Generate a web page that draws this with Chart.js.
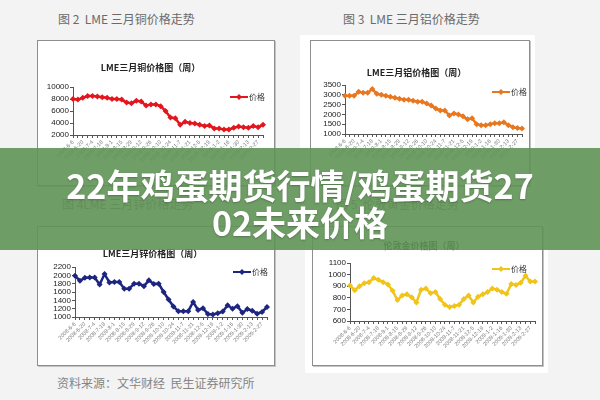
<!DOCTYPE html>
<html>
<head>
<meta charset="utf-8">
<script src="https://cdn.jsdelivr.net/npm/chart.js@4/dist/chart.umd.min.js"></script>
<style>
  body { margin: 0; width: 600px; height: 400px; background: #f3f3f3; position: relative; overflow: hidden;
         font-family: "Noto Sans CJK SC", sans-serif; }
  .cap { position: absolute; font-size: 12px; line-height: 14px; color: #6a6a6a; white-space: nowrap; }
  .paper { position: absolute; background: #fff; }
  .box { position: absolute; border: 1px solid #8e8e8e; background: #fff; box-shadow: 1px 1px 0 #c4c4c4; }
  .box canvas { display: block; }
  #banner { position: absolute; left: 0; top: 148px; width: 600px; height: 102px; background: rgba(96, 148, 86, 0.9);
            color: #fff; text-align: center; font-weight: 700; font-size: 34px; line-height: 37px;
            box-sizing: border-box; padding-top: 18px; text-shadow: 0 1px 2px rgba(0,0,0,0.25); }
</style>
</head>
<body>
<div class="cap" style="left:58px;top:12px">图 2&nbsp; LME 三月铜价格走势</div>
<div class="cap" style="left:343px;top:12px">图 3&nbsp; LME 三月铝价格走势</div>
<div class="cap" style="left:62px;top:197px">图 4LME 三月锌价格走势</div>
<div class="cap" style="left:336px;top:197px">图 5&nbsp; 伦敦黄金价格走势</div>
<div class="cap" style="left:57px;top:376px;color:#858585">资料来源：文华财经&nbsp; 民生证券研究所</div>

<div class="paper" style="left:300px;top:35px;width:235px;height:157px"></div>
<div class="paper" style="left:305px;top:221px;width:243px;height:152px"></div>

<div class="box" style="left:37px;top:40px"><canvas id="copper" width="236" height="144"></canvas></div>
<div class="box" style="left:310px;top:40px"><canvas id="aluminium" width="218" height="144"></canvas></div>
<div class="box" style="left:37px;top:226px"><canvas id="zinc" width="236" height="138"></canvas></div>
<div class="box" style="left:312px;top:226px"><canvas id="gold" width="229" height="138"></canvas></div>

<div id="banner">22年鸡蛋期货行情/鸡蛋期货27<br>02未来价格</div>

<script>
// weekly dates, 2008-6-6 .. 2009-3-6
const dates = [
  '2008-6-6', '2008-6-13', '2008-6-20', '2008-6-27', '2008-7-4', '2008-7-11', '2008-7-18', '2008-7-25',
  '2008-8-1', '2008-8-8', '2008-8-15', '2008-8-22', '2008-8-29', '2008-9-5', '2008-9-12', '2008-9-19',
  '2008-9-26', '2008-10-3', '2008-10-10', '2008-10-17', '2008-10-24', '2008-10-31', '2008-11-7', '2008-11-14',
  '2008-11-21', '2008-11-28', '2008-12-5', '2008-12-12', '2008-12-19', '2008-12-26', '2009-1-2', '2009-1-9',
  '2009-1-16', '2009-1-23', '2009-1-30', '2009-2-6', '2009-2-13', '2009-2-20', '2009-2-27', '2009-3-6'
];

const copperPrices = [8000, 7900, 8200, 8500, 8500, 8400, 8300, 8200, 8000, 8000, 7900, 7400, 7300, 7700,
  7600, 6900, 7100, 7100, 6800, 6000, 4900, 4800, 3700, 4200, 4000, 3900, 3700, 3500, 3600, 3100,
  3100, 2900, 2900, 3200, 3400, 3300, 3200, 3500, 3300, 3700];

const aluminiumPrices = [2950, 2950, 2950, 3150, 3100, 3100, 3300, 3050, 3000, 2950, 2900, 2850, 2800, 2750,
  2750, 2700, 2650, 2650, 2550, 2450, 2300, 2200, 2200, 1950, 2050, 2000, 1900, 1750, 1800, 1500,
  1450, 1450, 1500, 1550, 1550, 1600, 1450, 1350, 1300, 1280];

const zincPrices = [1990, 1870, 1940, 1950, 1950, 1780, 2030, 1830, 1840, 1840, 1680, 1680, 1800, 1800,
  1740, 1880, 1790, 1800, 1600, 1420, 1250, 1140, 1140, 1140, 1360, 1170, 1210, 1070, 1060, 1090,
  1130, 1280, 1200, 1260, 1100, 1190, 1150, 1080, 1120, 1240];

const goldPrices = [905, 865, 900, 925, 935, 970, 955, 935, 915, 860, 780, 820, 830, 805, 760, 870, 880,
  840, 850, 790, 740, 720, 730, 740, 790, 820, 760, 810, 830, 850, 880, 870, 850, 835, 920, 910,
  930, 990, 940, 940];

const copperTicks = [2000, 10000, 2000];     // min, max, step
const aluminiumTicks = [1000, 3500, 500];
const zincTicks = [1000, 2200, 200];
const goldTicks = [600, 1100, 100];

const seriesLabel = '价格';

// small legend drawn inside the plot, like the Excel original
const legendMark = {
  id: 'legendMark',
  afterDraw(chart, args, opts) {
    const ctx = chart.ctx;
    const ds = chart.data.datasets[0];
    const x = opts.x, y = opts.y;
    ctx.save();
    ctx.strokeStyle = ds.borderColor;
    ctx.lineWidth = 2;
    ctx.beginPath();
    ctx.moveTo(x, y);
    ctx.lineTo(x + 18, y);
    ctx.stroke();
    ctx.fillStyle = ds.borderColor;
    ctx.beginPath();
    ctx.moveTo(x + 9, y - 3);
    ctx.lineTo(x + 12, y);
    ctx.lineTo(x + 9, y + 3);
    ctx.lineTo(x + 6, y);
    ctx.closePath();
    ctx.fill();
    ctx.fillStyle = '#333';
    ctx.font = '8px "Noto Sans CJK SC"';
    ctx.textBaseline = 'middle';
    ctx.fillText(ds.label, x + 19, y);
    ctx.restore();
  }
};

function makeChart(id, title, values, ticks, color, g) {
  return new Chart(document.getElementById(id), {
    type: 'line',
    data: {
      labels: dates,
      datasets: [{
        label: seriesLabel,
        data: values,
        borderColor: color,
        backgroundColor: color,
        borderWidth: 2.5,
        pointStyle: 'rectRot',
        pointRadius: 3,
        pointBackgroundColor: color,
        pointBorderWidth: 0,
        tension: 0
      }]
    },
    options: {
      responsive: false,
      animation: false,
      layout: { padding: { left: 0, right: g.right, top: 0, bottom: 0 } },
      plugins: {
        legend: { display: false },
        tooltip: { enabled: false },
        title: {
          display: true,
          text: title,
          color: '#222',
          font: { family: '"Noto Sans CJK SC"', size: 9, weight: 'bold', lineHeight: 1.2 },
          padding: { top: g.titleTop, bottom: g.titleBottom }
        },
        legendMark: { x: g.legX, y: g.legY }
      },
      scales: {
        x: {
          offset: false,
          afterFit: s => { s.height = g.xHeight; },
          grid: { drawOnChartArea: false, drawTicks: true, tickLength: 3, color: '#555' },
          border: { color: '#555' },
          ticks: {
            autoSkip: false, minRotation: 45, maxRotation: 45, padding: 1,
            color: '#777', font: { family: 'Liberation Sans', size: 5.5 },
            callback: (v, i) => (i % 2 ? '' : dates[i])
          }
        },
        y: {
          min: ticks[0], max: ticks[1],
          afterFit: s => { s.width = g.yWidth; },
          grid: { drawOnChartArea: false, drawTicks: true, tickLength: 3, color: '#555' },
          border: { color: '#555' },
          ticks: {
            stepSize: ticks[2], autoSkip: false, padding: 1, color: '#222',
            font: { family: 'Liberation Sans', size: 8 },
            callback: v => String(v)
          }
        }
      }
    },
    plugins: [legendMark]
  });
}

makeChart('copper', 'LME三月铜价格图（周）', copperPrices, copperTicks, '#e3161d',
  { right: 11, yWidth: 35, xHeight: 50, titleTop: 21.6, titleBottom: 13.6, legX: 192, legY: 56 });
makeChart('aluminium', 'LME三月铝价格图（周）', aluminiumPrices, aluminiumTicks, '#e8771f',
  { right: 7, yWidth: 34, xHeight: 51, titleTop: 26.6, titleBottom: 6.6, legX: 181, legY: 51 });
makeChart('zinc', 'LME三月锌价格图（周）', zincPrices, zincTicks, '#1d2580',
  { right: 7, yWidth: 37, xHeight: 48, titleTop: 21.6, titleBottom: 7.6, legX: 195, legY: 45 });
makeChart('gold', '伦敦金价格图（周）', goldPrices, goldTicks, '#f0c419',
  { right: 7, yWidth: 37, xHeight: 44, titleTop: 13.6, titleBottom: 11.6, legX: 179, legY: 42 });
</script>
</body>
</html>
